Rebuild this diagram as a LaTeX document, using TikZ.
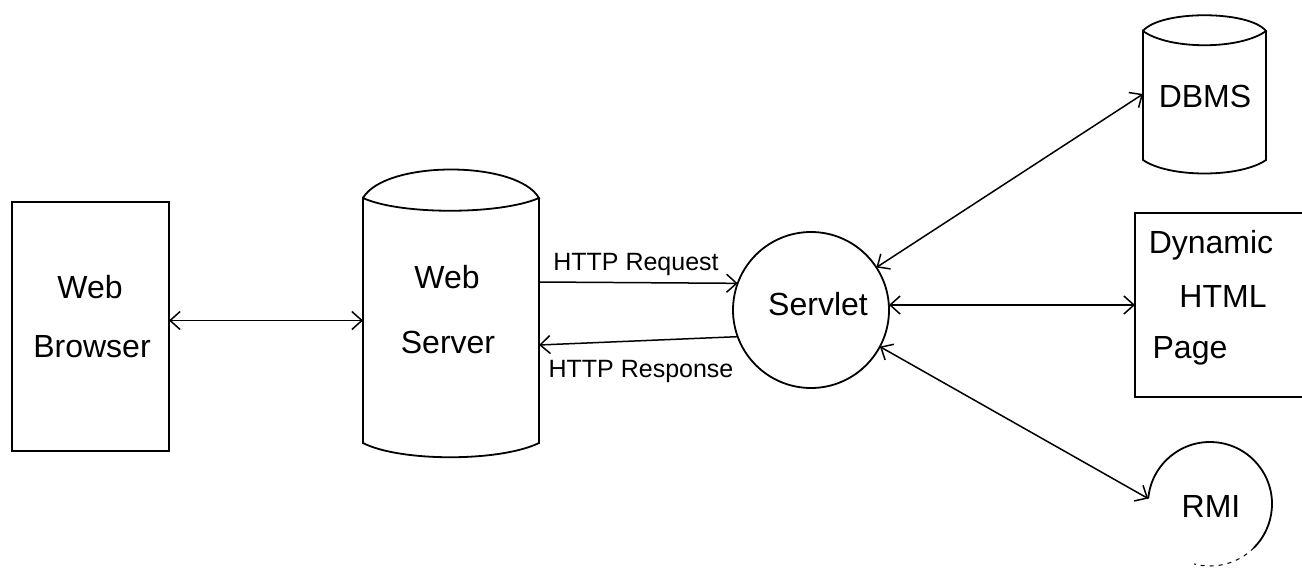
\documentclass[tikz,border=0pt]{standalone}
\usepackage{fontspec}
\setmainfont{Liberation Sans}
\usetikzlibrary{arrows.meta}
\tikzset{
  ln/.style={line width=1.8pt, black},
  shapebox/.style={draw=none, inner sep=0pt, outer sep=0pt},
  lbl/.style={anchor=base, inner sep=0pt, font=\fontsize{32}{38}\selectfont},
  httplbl/.style={anchor=base, inner sep=0pt, font=\fontsize{25}{30}\selectfont},
  conn/.style={ln, line width=1.5pt, {Straight Barb[length=10pt,width=18pt,line width=1.5pt]}-{Straight Barb[length=10pt,width=18pt,line width=1.5pt]}},
  oneway/.style={ln, line width=1.5pt, -{Straight Barb[length=10pt,width=18pt,line width=1.5pt]}}
}
\begin{document}
\begin{tikzpicture}[x=1pt,y=-1pt]
\useasboundingbox (0,0) rectangle (1302,570);
\fill[white] (0,0) rectangle (1302,570);

% Web Browser
\node[shapebox, draw, ln, minimum width=157pt, minimum height=249pt] (wb) at (90.5,326.5) {};
\node[lbl] (wbt1) at (90,298) {Web};
\node[lbl] (wbt2) at (92,357) {Browser};

% Web Server (cylinder)
\node[shapebox, minimum width=176pt, minimum height=294pt] (ws) at (451,310) {};
\draw[ln] (363,198) .. controls (385,160) and (517,160) .. (539,198)
  .. controls (500,215) and (400,215) .. (363,198) -- (363,443)
  .. controls (400,462) and (500,462) .. (539,443) -- (539,198);
\node[lbl] (wst1) at (447,288) {Web};
\node[lbl] (wst2) at (448,353) {Server};

% Servlet
\node[shapebox, circle, draw, ln, minimum size=156pt] (sv) at (811,310) {};
\node[lbl] (svt) at (818,315) {Servlet};

% DBMS (cylinder)
\node[shapebox, minimum width=123pt, minimum height=158pt] (db) at (1204.5,94) {};
\draw[ln] (1143,31) .. controls (1160,10) and (1249,10) .. (1266,31)
  .. controls (1240,50) and (1169,50) .. (1143,31) -- (1143,160)
  .. controls (1169,178) and (1240,178) .. (1266,160) -- (1266,31);
\node[lbl] (dbt) at (1205,107) {DBMS};

% Dynamic HTML Page
\node[shapebox, minimum width=167pt, minimum height=184pt] (dh) at (1218.5,305) {};
\draw[ln] (1302,213) -- (1135,213) -- (1135,397) -- (1302,397);
\node[lbl] (dht1) at (1211,253) {Dynamic};
\node[lbl] (dht2) at (1223,307) {HTML};
\node[lbl] (dht3) at (1190,358) {Page};

% RMI
\node[shapebox, circle, minimum size=124pt] (rmi) at (1210,504) {};
\draw[ln] (rmi.center) ++(175:62pt) arc[start angle=175, end angle=-45, radius=62pt];
\draw[ln, line width=1pt, dash pattern=on 4pt off 5pt] (rmi.center) ++(-45:62pt) arc[start angle=-45, end angle=-105, radius=62pt];
\node[lbl] (rmit) at (1211,517) {RMI};

% Connectors
\draw[conn] ([yshift=6pt]wb.east) -- ([yshift=6pt]wb.east -| ws.west);
\draw[oneway] ([yshift=28pt]ws.east) -- (sv.160);
\draw[oneway] (sv.-160) -- ([yshift=-35pt]ws.east);
\node[httplbl] (req) at (636,270) {HTTP Request};
\node[httplbl] (resp) at (641,377) {HTTP Response};
\draw[conn] (sv) -- (db.west);
\draw[conn] (dh.west -| sv.east) -- (dh.west);
\draw[conn] (sv.-28) -- (rmi.175);
\end{tikzpicture}
\end{document}
